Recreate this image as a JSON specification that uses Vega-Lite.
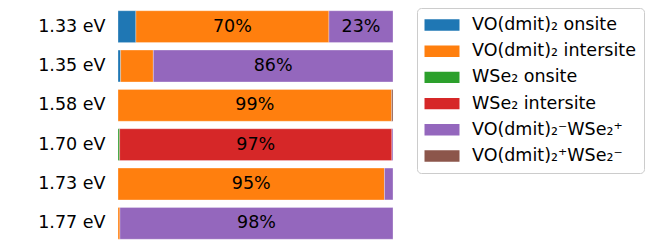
{
  "$schema": "https://vega.github.io/schema/vega-lite/v6.json",
  "autosize": "none",
  "width": 275,
  "height": 236,
  "padding": {"left": 118, "top": 7, "right": 262, "bottom": 9},
  "background": "white",
  "config": {
    "view": {"stroke": null},
    "font": "DejaVu Sans"
  },
  "data": {
    "values": [
      {"energy": "1.33 eV", "cat": "VO(dmit)₂ onsite", "k": 0, "value": 6.5, "label": ""},
      {"energy": "1.33 eV", "cat": "VO(dmit)₂ intersite", "k": 1, "value": 70.2, "label": "70%"},
      {"energy": "1.33 eV", "cat": "VO(dmit)₂⁻WSe₂⁺", "k": 4, "value": 23.3, "label": "23%"},
      {"energy": "1.35 eV", "cat": "VO(dmit)₂ onsite", "k": 0, "value": 0.95, "label": ""},
      {"energy": "1.35 eV", "cat": "VO(dmit)₂ intersite", "k": 1, "value": 11.9, "label": ""},
      {"energy": "1.35 eV", "cat": "VO(dmit)₂⁻WSe₂⁺", "k": 4, "value": 87.15, "label": "86%"},
      {"energy": "1.58 eV", "cat": "VO(dmit)₂ intersite", "k": 1, "value": 99.5, "label": "99%"},
      {"energy": "1.58 eV", "cat": "VO(dmit)₂⁺WSe₂⁻", "k": 5, "value": 0.5, "label": ""},
      {"energy": "1.70 eV", "cat": "WSe₂ onsite", "k": 2, "value": 0.6, "label": ""},
      {"energy": "1.70 eV", "cat": "WSe₂ intersite", "k": 3, "value": 99.0, "label": "97%"},
      {"energy": "1.70 eV", "cat": "VO(dmit)₂⁻WSe₂⁺", "k": 4, "value": 0.4, "label": ""},
      {"energy": "1.73 eV", "cat": "VO(dmit)₂ intersite", "k": 1, "value": 96.9, "label": "95%"},
      {"energy": "1.73 eV", "cat": "VO(dmit)₂⁻WSe₂⁺", "k": 4, "value": 3.1, "label": ""},
      {"energy": "1.77 eV", "cat": "VO(dmit)₂ intersite", "k": 1, "value": 0.7, "label": ""},
      {"energy": "1.77 eV", "cat": "VO(dmit)₂⁻WSe₂⁺", "k": 4, "value": 99.3, "label": "98%"}
    ]
  },
  "transform": [
    {"stack": "value", "groupby": ["energy"], "sort": [{"field": "k", "order": "ascending"}], "as": ["x0", "x1"]},
    {"calculate": "(datum.x0 + datum.x1) / 2", "as": "mid"}
  ],
  "encoding": {
    "y": {
      "field": "energy",
      "type": "nominal",
      "sort": ["1.33 eV", "1.35 eV", "1.58 eV", "1.70 eV", "1.73 eV", "1.77 eV"],
      "scale": {"paddingInner": 0.19, "paddingOuter": 0.095},
      "axis": {
        "title": null,
        "domain": false,
        "ticks": false,
        "labelFontSize": 17.5,
        "labelColor": "black",
        "labelPadding": 13,
        "labelFont": "DejaVu Sans"
      }
    }
  },
  "layer": [
    {
      "mark": {"type": "bar", "stroke": "white", "strokeWidth": 0.3},
      "encoding": {
        "x": {"field": "x0", "type": "quantitative", "scale": {"domain": [0, 100], "nice": false, "zero": true}, "axis": null},
        "x2": {"field": "x1"},
        "color": {
          "field": "cat",
          "type": "nominal",
          "scale": {
            "domain": ["VO(dmit)₂ onsite", "VO(dmit)₂ intersite", "WSe₂ onsite", "WSe₂ intersite", "VO(dmit)₂⁻WSe₂⁺", "VO(dmit)₂⁺WSe₂⁻"],
            "range": ["#1f77b4", "#ff7f0e", "#2ca02c", "#d62728", "#9467bd", "#8c564b"]
          },
          "legend": {
            "title": null,
            "orient": "none",
            "legendX": 299,
            "legendY": 1,
            "symbolType": "M-2,-0.65H2V0.65H-2Z",
            "symbolSize": 306,
            "symbolStrokeWidth": 0,
            "symbolOffset": 8,
            "labelFontSize": 17.5,
            "labelFont": "DejaVu Sans",
            "labelColor": "black",
            "labelOffset": 21,
            "labelLimit": 300,
            "rowPadding": 8.2,
            "padding": 8,
            "fillColor": "white",
            "strokeColor": "#cccccc",
            "cornerRadius": 4
          }
        }
      }
    },
    {
      "transform": [{"filter": "datum.label != ''"}],
      "mark": {"type": "text", "fontSize": 17.5, "font": "DejaVu Sans", "color": "black", "align": "center", "baseline": "middle"},
      "encoding": {
        "x": {"field": "mid", "type": "quantitative"},
        "text": {"field": "label"}
      }
    }
  ]
}
